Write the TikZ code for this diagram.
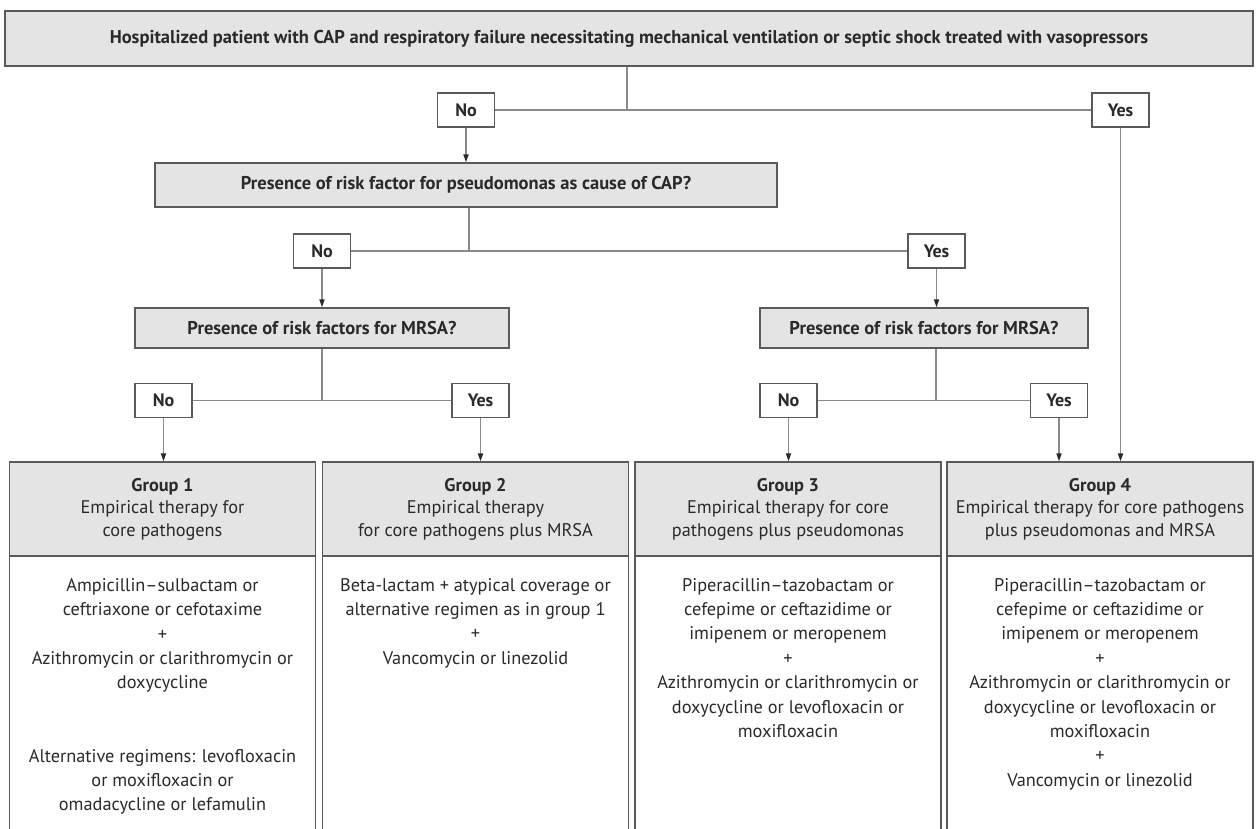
\documentclass[tikz,border=0pt]{standalone}
\usepackage{fontspec}
\setmainfont{PT Sans}
\usetikzlibrary{arrows.meta}
\definecolor{txt}{HTML}{2A2A2A}
\definecolor{bord}{HTML}{5A5A5A}
\definecolor{boxfill}{HTML}{E4E4E4}
\definecolor{lineg}{HTML}{8A8A8A}
\begin{document}
\begin{tikzpicture}[x=1pt,y=-1pt,
  every node/.style={text=txt},
  dec/.style={draw=bord, fill=boxfill, line width=1.2pt, inner sep=0pt, font=\fontsize{18.5}{20}\selectfont\bfseries},
  yn/.style={draw=bord, fill=white, line width=1.2pt, minimum width=57pt, minimum height=34pt, inner sep=0pt, font=\fontsize{18}{20}\selectfont\bfseries},
  conn/.style={draw=lineg, line width=1.6pt},
  arr/.style={conn, -{Triangle[length=8pt,width=5pt,color=txt]}},
  ghead/.style={draw=bord, fill=boxfill, line width=1.2pt, minimum width=306pt, minimum height=94pt, inner sep=0pt, align=center, font=\fontsize{18.3}{22.5}\selectfont},
  gbody/.style={draw=bord, fill=white, line width=1.2pt, minimum width=306pt, minimum height=284pt, inner sep=0pt},
  btext/.style={align=center, font=\fontsize{18.3}{24.4}\selectfont, inner sep=0pt, anchor=north}
]
\useasboundingbox (0,0) rectangle (1257,829);
\fill[white] (0,0) rectangle (1257,829);

% top decision
\node[dec, minimum width=1248pt, minimum height=55pt] (top) at (629,38.5)
  {Hospitalized patient with CAP and respiratory failure necessitating mechanical ventilation or septic shock treated with vasopressors};
\node[yn] (no1) at (466,110) {No};
\node[yn] (yes1) at (1120.5,110) {Yes};
\coordinate (j1) at (627,110);

% pseudomonas decision
\node[dec, minimum width=622pt, minimum height=44pt] (pse) at (466,185)
  {Presence of risk factor for pseudomonas as cause of CAP?};
\node[yn] (no2) at (322,251) {No};
\node[yn] (yes2) at (936.5,251) {Yes};
\coordinate (j2) at (469,251);

% MRSA decisions
\node[dec, minimum width=374pt, minimum height=40pt] (mrL) at (322,328)
  {Presence of risk factors for MRSA?};
\node[dec, minimum width=328pt, minimum height=40pt] (mrR) at (924,328)
  {Presence of risk factors for MRSA?};
\node[yn] (no3) at (163.5,400.5) {No};
\node[yn] (yes3) at (480.5,400.5) {Yes};
\node[yn] (no4) at (788.5,400.5) {No};
\node[yn] (yes4) at (1059,400.5) {Yes};
\coordinate (j3) at (322,400.5);
\coordinate (j4) at (936,400.5);

% groups
\node[gbody] (g1b) at (162.5,698) {};
\node[gbody] (g2b) at (475.5,698) {};
\node[gbody] (g3b) at (788,698) {};
\node[gbody] (g4b) at (1100,698) {};
\node[ghead] (g1h) at (162.5,509) {\textbf{Group 1}\\Empirical therapy for\\core pathogens};
\node[ghead] (g2h) at (475.5,509) {\textbf{Group 2}\\Empirical therapy\\for core pathogens plus MRSA};
\node[ghead] (g3h) at (788,509) {\textbf{Group 3}\\Empirical therapy for core\\pathogens plus pseudomonas};
\node[ghead] (g4h) at (1100,509) {\textbf{Group 4}\\Empirical therapy for core pathogens\\plus pseudomonas and MRSA};

\node[btext] (g1t) at (162.5,578) {Ampicillin–sulbactam or\\ceftriaxone or cefotaxime\\+\\Azithromycin or clarithromycin or\\doxycycline\\[48.8pt]Alternative regimens: levofloxacin\\or moxifloxacin or\\omadacycline or lefamulin};
\node[btext] (g2t) at (475.5,578) {Beta-lactam + atypical coverage or\\alternative regimen as in group 1\\+\\Vancomycin or linezolid};
\node[btext] (g3t) at (788,578) {Piperacillin–tazobactam or\\cefepime or ceftazidime or\\imipenem or meropenem\\+\\Azithromycin or clarithromycin or\\doxycycline or levofloxacin or\\moxifloxacin};
\node[btext] (g4t) at (1100,578) {Piperacillin–tazobactam or\\cefepime or ceftazidime or\\imipenem or meropenem\\+\\Azithromycin or clarithromycin or\\doxycycline or levofloxacin or\\moxifloxacin\\+\\Vancomycin or linezolid};

% connectors
\draw[conn] (top.south -| j1) -- (j1);
\draw[conn] (no1.east) -- (yes1.west);
\draw[arr] (no1.south) -- (no1.south |- pse.north);
\draw[conn] (pse.south -| j2) -- (j2);
\draw[conn] (no2.east) -- (yes2.west);
\draw[arr] (no2.south) -- (no2.south |- mrL.north);
\draw[arr] (yes2.south) -- (yes2.south |- mrR.north);
\draw[conn] (mrL.south -| j3) -- (j3);
\draw[conn] (no3.east) -- (yes3.west);
\draw[conn] (mrR.south -| j4) -- (j4);
\draw[conn] (no4.east) -- (yes4.west);
\draw[arr] (no3.south) -- (no3.south |- g1h.north);
\draw[arr] (yes3.south) -- (yes3.south |- g2h.north);
\draw[arr] (no4.south) -- (no4.south |- g3h.north);
\draw[arr] (yes4.south) -- (yes4.south |- g4h.north);
\draw[arr] (yes1.south) -- (yes1.south |- g4h.north);
\end{tikzpicture}
\end{document}
